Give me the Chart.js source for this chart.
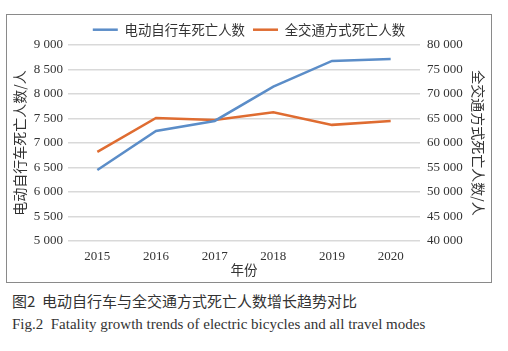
<!DOCTYPE html>
<html>
<head>
<meta charset="utf-8">
<script src="https://cdn.jsdelivr.net/npm/chart.js@4"></script>
<style>
    html, body { margin: 0; padding: 0; background: #fff; }
    body { width: 508px; height: 351px; position: relative; overflow: hidden; }
    #box {
        position: absolute; left: 6px; top: 14px;
        width: 484px; height: 267px;
        border: 1px solid #8a8a8a;
    }
    #caption-cn {
        position: absolute; left: 12px; top: 290px;
        font-family: "Noto Sans CJK SC", sans-serif; font-size: 15px; color: #333;
        white-space: nowrap;
    }
    #caption-en {
        position: absolute; left: 12px; top: 316px;
        font-family: "Liberation Serif", serif; font-size: 15px; color: #333;
        white-space: nowrap;
    }
</style>
</head>
<body>
<div id="box"><canvas id="chart" width="484" height="267"></canvas></div>
<div id="caption-cn">图2&nbsp; 电动自行车与全交通方式死亡人数增长趋势对比</div>
<div id="caption-en">Fig.2&nbsp; Fatality growth trends of electric bicycles and all travel modes</div>
<script>
    // data
    const years = ['2015', '2016', '2017', '2018', '2019', '2020'];
    const ebikeDeaths = [6450, 7245, 7450, 8150, 8675, 8715];
    const allModeDeaths = [58200, 65100, 64700, 66250, 63700, 64500];

    const blue = '#5b8dc8';
    const orange = '#df6c31';
    const textColor = '#333';
    const gridColor = '#d9d9d9';

    const serif = "'Liberation Serif', 'Times New Roman', serif";
    const cjk = "'Noto Sans CJK SC', sans-serif";

    // format 9000 -> "9 000"
    function spaced(v) {
        return String(v).replace(/\B(?=(\d{3})+(?!\d))/g, ' ');
    }

    // force legend height so the plot area lands where it should
    const legendHeight = {
        id: 'legendHeight',
        beforeInit(chart) {
            const fit = chart.legend.fit;
            chart.legend.fit = function () {
                fit.bind(chart.legend)();
                this.height = 30;
            };
        }
    };

    new Chart(document.getElementById('chart'), {
        type: 'line',
        data: {
            labels: years,
            datasets: [{
                label: '电动自行车死亡人数',
                data: ebikeDeaths,
                borderColor: blue,
                backgroundColor: blue,
                borderWidth: 2.5,
                pointRadius: 0,
                tension: 0,
                yAxisID: 'y'
            }, {
                label: '全交通方式死亡人数',
                data: allModeDeaths,
                borderColor: orange,
                backgroundColor: orange,
                borderWidth: 2.5,
                pointRadius: 0,
                tension: 0,
                yAxisID: 'y1'
            }]
        },
        options: {
            responsive: false,
            animation: false,
            layout: { padding: 0 },
            plugins: {
                legend: {
                    position: 'top',
                    labels: {
                        color: textColor,
                        font: { family: cjk, size: 13.4 },
                        usePointStyle: true,
                        pointStyleWidth: 25,
                        pointStyle: 'line',
                        boxHeight: 10,
                        padding: 8
                    }
                },
                tooltip: { enabled: false }
            },
            scales: {
                x: {
                    offset: true,
                    grid: { display: false, drawTicks: false },
                    border: { display: false },
                    ticks: {
                        color: textColor,
                        font: { family: serif, size: 13 },
                        padding: 8
                    },
                    title: {
                        display: true,
                        text: '年份',
                        color: textColor,
                        font: { family: cjk, size: 13.5 },
                        padding: { top: 0, bottom: 4 }
                    },
                    afterFit(scale) { scale.height = 41; }
                },
                y: {
                    position: 'left',
                    min: 5000,
                    max: 9000,
                    grid: { color: gridColor, lineWidth: 1.5, drawTicks: false },
                    border: { display: false },
                    ticks: {
                        stepSize: 500,
                        color: textColor,
                        font: { family: serif, size: 13 },
                        padding: 5,
                        callback: v => spaced(v)
                    },
                    title: {
                        display: true,
                        text: '电动自行车死亡人数/人',
                        color: textColor,
                        font: { family: cjk, size: 14 },
                        padding: { top: 4, bottom: 0 }
                    },
                    afterFit(scale) { scale.width = 61; }
                },
                y1: {
                    position: 'right',
                    min: 40000,
                    max: 80000,
                    grid: { drawOnChartArea: false, drawTicks: false },
                    border: { display: false },
                    ticks: {
                        stepSize: 5000,
                        color: textColor,
                        font: { family: serif, size: 13 },
                        padding: 7,
                        callback: v => spaced(v)
                    },
                    title: {
                        display: true,
                        text: '全交通方式死亡人数/人',
                        color: textColor,
                        font: { family: cjk, size: 14 },
                        padding: { top: 4, bottom: 0 }
                    },
                    afterFit(scale) { scale.width = 71; }
                }
            }
        },
        plugins: [legendHeight]
    });
</script>
</body>
</html>
